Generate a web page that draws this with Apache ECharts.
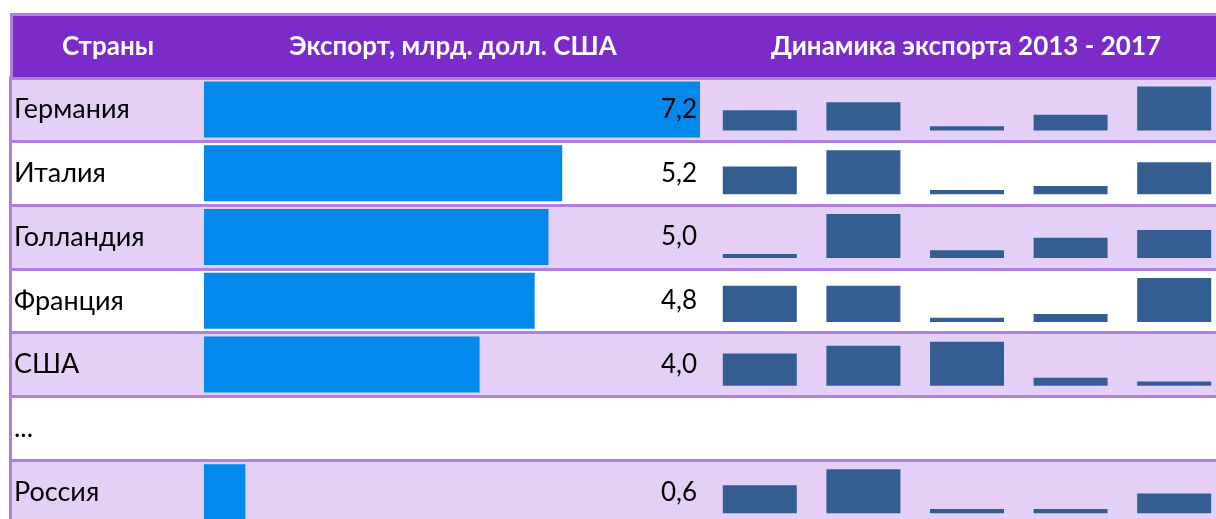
<!DOCTYPE html>
<html>
<head>
<meta charset="utf-8">
<script src="https://cdn.jsdelivr.net/npm/echarts@6/dist/echarts.min.js"></script>
<style>
  html, body { margin: 0; padding: 0; background: #fff; }
  #chart { width: 1216px; height: 519px; }
</style>
</head>
<body>
<div id="chart"></div>
<script>
// table rows
const countries = ['Германия', 'Италия', 'Голландия', 'Франция', 'США', '...', 'Россия']
const exportValues = [7.2, 5.2, 5.0, 4.8, 4.0, null, 0.6]
const headers = ['Страны', 'Экспорт, млрд. долл. США', 'Динамика экспорта 2013 - 2017']

// sparkline columns (relative level per year, as drawn)
const years = ['2013', '2014', '2015', '2016', '2017']
const dynGermany = [46, 64, 9.5, 36, 100]
const dynItaly = [63, 100, 10, 19, 73]
const dynHolland = [9.5, 100, 18, 46, 64]
const dynFrance = [82, 82, 9.5, 18, 100]
const dynUSA = [73, 91, 100, 18, 9.5]
const dynRussia = [64, 100, 9.5, 9.5, 45]
const dynamics = [dynGermany, dynItaly, dynHolland, dynFrance, dynUSA, null, dynRussia]

const FONT = 'Lato, "Open Sans", sans-serif'
const TOP = 77.5
const ROW = 63.8
const LINE = '#B07FE0'

const fmt = v => (v == null ? '' : v.toFixed(1).replace('.', ','))

const grids = [
  { left: 10, top: TOP, width: 1206, height: ROW * countries.length, outerBoundsMode: 'none' },
  { left: 204, top: TOP, width: 496, height: ROW * countries.length, outerBoundsMode: 'none' }
]
const xAxes = [
  { gridIndex: 0, type: 'value', show: false },
  { gridIndex: 1, type: 'value', min: 0, max: 7.2, show: false }
]
const yAxes = [
  {
    gridIndex: 0,
    type: 'category',
    data: countries,
    inverse: true,
    axisLine: { show: true, lineStyle: { color: LINE, width: 3 } },
    axisTick: { show: false },
    axisLabel: { inside: true, interval: 0, margin: 4, fontSize: 27, color: '#000', fontFamily: FONT },
    splitLine: { show: true, interval: 0, lineStyle: { color: LINE, width: 3 } },
    splitArea: { show: true, interval: 0, areaStyle: { color: ['#E4D0F6', '#FFFFFF'] } }
  },
  {
    gridIndex: 1,
    type: 'category',
    data: exportValues.map(fmt),
    inverse: true,
    position: 'right',
    z: 5,
    axisLine: { show: false },
    axisTick: { show: false },
    axisLabel: { inside: true, interval: 0, margin: 3, fontSize: 26, color: '#000', fontFamily: FONT },
    splitLine: { show: false }
  }
]
const series = [
  {
    type: 'bar',
    xAxisIndex: 1,
    yAxisIndex: 1,
    data: exportValues,
    barWidth: 56,
    itemStyle: { color: '#0388EC' },
    silent: true
  }
]

dynamics.forEach((row, i) => {
  if (!row) return
  const k = grids.length
  grids.push({ left: 708, width: 518, top: TOP + i * ROW + 9, height: 44, outerBoundsMode: 'none' })
  xAxes.push({ gridIndex: k, type: 'category', data: years, show: false })
  yAxes.push({ gridIndex: k, type: 'value', min: 0, max: 'dataMax', show: false })
  series.push({
    type: 'bar',
    xAxisIndex: k,
    yAxisIndex: k,
    data: row,
    barWidth: 74,
    clip: false,
    itemStyle: { color: '#345E92' },
    silent: true
  })
})

const headerX = [108, 453, 966]

const chart = echarts.init(document.getElementById('chart'), null, { renderer: 'canvas' })
chart.setOption({
  animation: false,
  grid: grids,
  xAxis: xAxes,
  yAxis: yAxes,
  series: series,
  graphic: [
    {
      type: 'rect',
      left: 10,
      top: 13,
      z: 10,
      shape: { width: 1210, height: 64 },
      style: { fill: '#7B2CC8', stroke: LINE, lineWidth: 3 }
    },
    ...headers.map((h, i) => ({
      type: 'text',
      x: headerX[i],
      y: 47,
      z: 11,
      style: {
        text: h,
        fill: '#fff',
        font: 'bold 26px ' + FONT,
        textAlign: 'center',
        textVerticalAlign: 'middle'
      }
    }))
  ]
})
</script>
</body>
</html>
